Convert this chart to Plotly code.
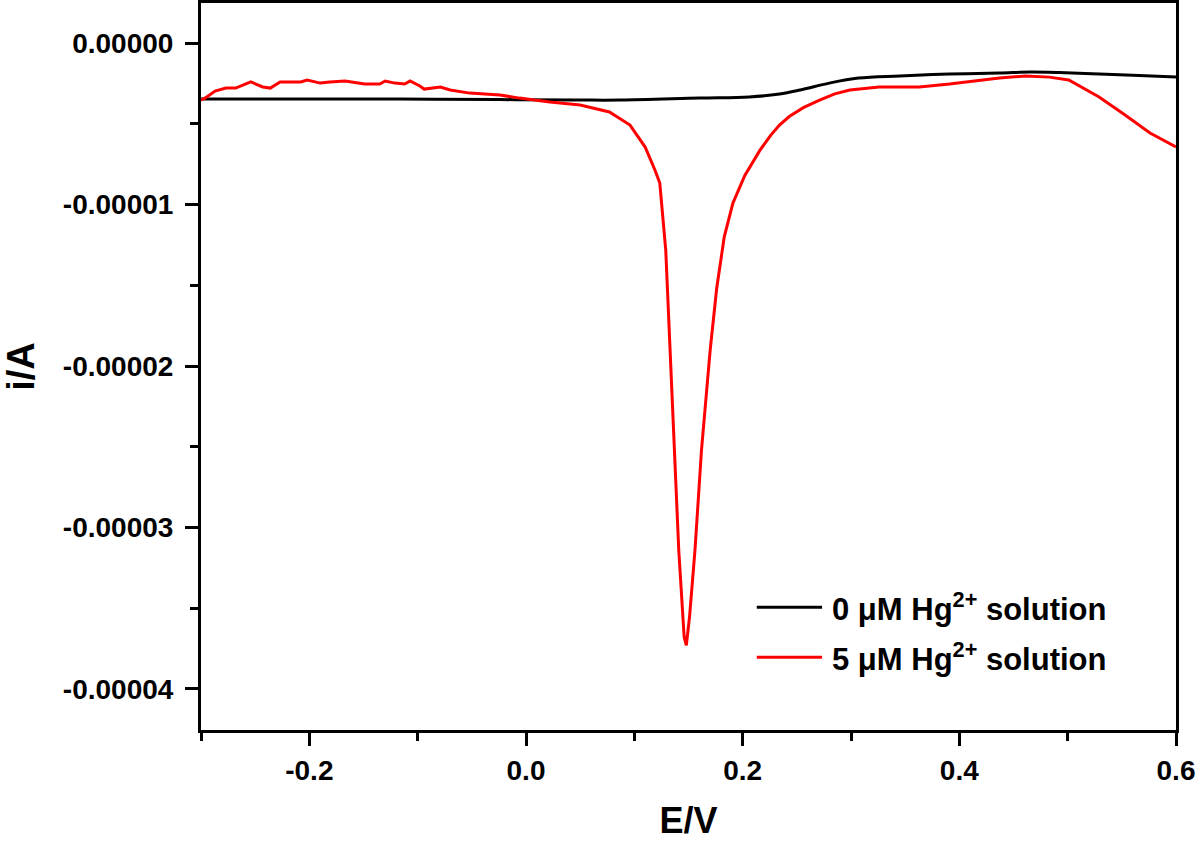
import plotly.graph_objects as go

# ---- data (E in V, i in A) ----
E_blank = [-0.300, -0.208, -0.116, -0.024, 0.050, 0.087, 0.160, 0.206, 0.234, 0.253,
           0.280, 0.307, 0.345, 0.391, 0.437, 0.465, 0.492, 0.529, 0.566, 0.600]
i_blank = [-3.47e-6, -3.47e-6, -3.47e-6, -3.50e-6, -3.53e-6, -3.53e-6, -3.41e-6, -3.34e-6,
           -3.16e-6, -2.91e-6, -2.48e-6, -2.17e-6, -2.04e-6, -1.92e-6, -1.86e-6, -1.80e-6,
           -1.83e-6, -1.92e-6, -2.01e-6, -2.11e-6]

E_hg = [-0.300, -0.296, -0.287, -0.277, -0.268, -0.254, -0.243, -0.236, -0.227, -0.208,
        -0.202, -0.190, -0.181, -0.167, -0.149, -0.135, -0.130, -0.121, -0.112, -0.107,
        -0.098, -0.094, -0.079, -0.070, -0.052, -0.024, -0.006, 0.008, 0.022, 0.050,
        0.077, 0.096, 0.110, 0.119, 0.1235, 0.129, 0.133, 0.137, 0.141, 0.146,
        0.148, 0.151, 0.156, 0.162, 0.170, 0.176, 0.183, 0.191, 0.202, 0.216, 0.226, 0.234,
        0.243, 0.256, 0.271, 0.285, 0.299, 0.326, 0.363, 0.391, 0.414, 0.437, 0.461, 0.483,
        0.501, 0.529, 0.553, 0.576, 0.600]
i_hg = [-3.53e-6, -3.40e-6, -2.97e-6, -2.79e-6, -2.79e-6, -2.41e-6, -2.72e-6, -2.79e-6, -2.41e-6, -2.41e-6,
        -2.29e-6, -2.48e-6, -2.41e-6, -2.35e-6, -2.54e-6, -2.54e-6, -2.35e-6, -2.48e-6, -2.54e-6, -2.35e-6,
        -2.66e-6, -2.85e-6, -2.72e-6, -2.91e-6, -3.10e-6, -3.22e-6, -3.41e-6, -3.53e-6, -3.65e-6, -3.84e-6,
        -4.27e-6, -5.08e-6, -6.44e-6, -7.86e-6, -8.67e-6, -12.82e-6, -19.01e-6, -25.20e-6, -31.39e-6, -36.78e-6,
        -37.30e-6, -35.50e-6, -31.39e-6, -25.20e-6, -19.01e-6, -15.20e-6, -12.00e-6, -9.91e-6, -8.20e-6, -6.63e-6, -5.70e-6, -5.08e-6,
        -4.55e-6, -4.00e-6, -3.53e-6, -3.15e-6, -2.91e-6, -2.72e-6, -2.72e-6, -2.54e-6, -2.35e-6, -2.17e-6, -2.04e-6, -2.11e-6,
        -2.29e-6, -3.34e-6, -4.46e-6, -5.57e-6, -6.44e-6]

x_ticks = [-0.2, 0.0, 0.2, 0.4, 0.6]
x_ticklabels = ["-0.2", "0.0", "0.2", "0.4", "0.6"]
y_ticks = [0.0, -1e-5, -2e-5, -3e-5, -4e-5]
y_ticklabels = ["0.00000", "-0.00001", "-0.00002", "-0.00003", "-0.00004"]
legend_labels = ["0 \u03bcM Hg<sup>2+</sup> solution", "5 \u03bcM Hg<sup>2+</sup> solution"]
colors = ["#000000", "#ff0000"]

FONT = "Arial, 'Liberation Sans', sans-serif"

fig = go.Figure()
fig.add_trace(go.Scatter(x=E_blank, y=i_blank, mode="lines", name=legend_labels[0],
                         line=dict(color=colors[0], width=3), line_shape="spline",
                         showlegend=False))
fig.add_trace(go.Scatter(x=E_hg, y=i_hg, mode="lines", name=legend_labels[1],
                         line=dict(color=colors[1], width=3),
                         showlegend=False))

# manual legend (lines + text)
leg_rows = [0.169, 0.100]
for k in range(2):
    fig.add_shape(type="line", xref="paper", yref="paper",
                  x0=0.570, x1=0.637, y0=leg_rows[k], y1=leg_rows[k],
                  line=dict(color=colors[k], width=3))
    fig.add_annotation(xref="paper", yref="paper", x=0.645, y=leg_rows[k],
                       xanchor="left", yanchor="middle", showarrow=False,
                       text="<b>" + legend_labels[k] + "</b>",
                       font=dict(family=FONT, size=31, color="black"))

axis_common = dict(
    showline=True, linewidth=3, linecolor="black", mirror=True,
    ticks="outside", ticklen=13, tickwidth=3, tickcolor="black",
    showgrid=False, zeroline=False,
    tickfont=dict(family=FONT, size=28, color="black", weight="bold"),
)

fig.update_xaxes(range=[-0.3, 0.6], tickvals=x_ticks, ticktext=x_ticklabels,
                 minor=dict(ticks="outside", ticklen=8, tickwidth=3, tickcolor="black", dtick=0.1,
                            tick0=-0.3),
                 title=dict(text="<b>E/V</b>", font=dict(family=FONT, size=36, color="black"),
                            standoff=28),
                 **axis_common)
fig.update_yaxes(range=[-4.254e-5, 2.48e-6], tickvals=y_ticks, ticktext=y_ticklabels,
                 minor=dict(ticks="outside", ticklen=8, tickwidth=3, tickcolor="black", dtick=5e-6,
                            tick0=0),
                 ticklabelstandoff=6,
                 title=dict(text="<b>i/A</b>", font=dict(family=FONT, size=38, color="black"),
                            standoff=24),
                 **axis_common)

fig.update_layout(
    width=1200, height=841,
    margin=dict(l=201, r=24, t=3, b=111, autoexpand=False),
    plot_bgcolor="white", paper_bgcolor="white",
    font=dict(family=FONT, color="black"),
)

fig.write_html("out.html", post_script="document.body.style.margin='0';",
               config={"displayModeBar": False})
